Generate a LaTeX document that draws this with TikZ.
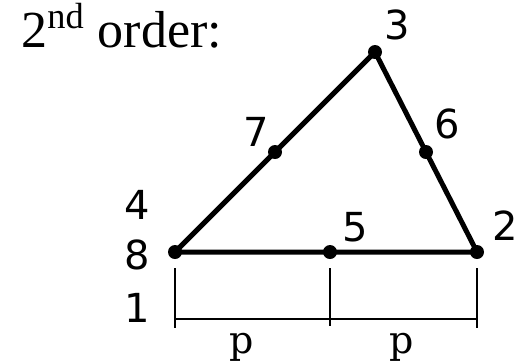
\documentclass[tikz,border=0pt]{standalone}
\usepackage{fontspec}
\setmainfont{Liberation Serif}
\newfontfamily\labelfont{DejaVu Sans}
\newfontfamily\dimfont{DejaVu Serif}
\usetikzlibrary{positioning}

\begin{document}
\begin{tikzpicture}[x=0.5pt, y=-0.5pt, every node/.style={inner sep=0pt}, dot/.style={circle, fill=black, minimum size=7pt}, num/.style={font=\labelfont\fontsize{20}{22}\selectfont}, dimlabel/.style={font=\dimfont\fontsize{19}{21}\selectfont, anchor=base}, side/.style={line width=2.5pt}, dimline/.style={line width=0.7pt}]

    \useasboundingbox (0,0) rectangle (515,361);
    \clip (0,0) rectangle (515,361);

    % title
    \node[anchor=base west, font=\fontsize{26}{28}\selectfont] (title) at (21,47) {2\textsuperscript{nd} order:};

    % corner and mid-side points
    \node[dot] (P1) at (175,252) {};
    \node[dot] (P2) at (477,252) {};
    \node[dot] (P3) at (375,52) {};
    \node[dot] (P5) at (330,252) {};
    \node[dot] (P6) at (426,152) {};
    \node[dot] (P7) at (275,152) {};

    \draw[side] (P1.center) -- (P5.center) -- (P2.center) -- (P6.center) -- (P3.center) -- (P7.center) -- (P1.center);

    % point numbers
    \node[num] (L3) at (397,25) {3};
    \node[num] (L6) at (447,124) {6};
    \node[num] (L7) at (256,132) {7};
    \node[num] (L5) at (355,227) {5};
    \node[num] (L2) at (505,226) {2};
    \node[num] (L4) at (137,205) {4};
    \node[num] (L8) at (137,255) {8};
    \node[num] (L1) at (137,308) {1};

    % dimensions
    \coordinate (T1a) at (175,268);
    \coordinate (T1b) at (175,328);
    \coordinate (T5a) at (330,268);
    \coordinate (T5b) at (330,326);
    \coordinate (T2a) at (477,268);
    \coordinate (T2b) at (477,328);
    \coordinate (D1) at (175,319);
    \coordinate (D2) at (477,319);
    \draw[dimline] (T1a) -- (T1b);
    \draw[dimline] (T5a) -- (T5b);
    \draw[dimline] (T2a) -- (T2b);
    \draw[dimline] (D1) -- (D2);
    \node[dimlabel] (pa) at (242,353) {p};
    \node[dimlabel] (pb) at (402,353) {p};

\end{tikzpicture}
\end{document}
